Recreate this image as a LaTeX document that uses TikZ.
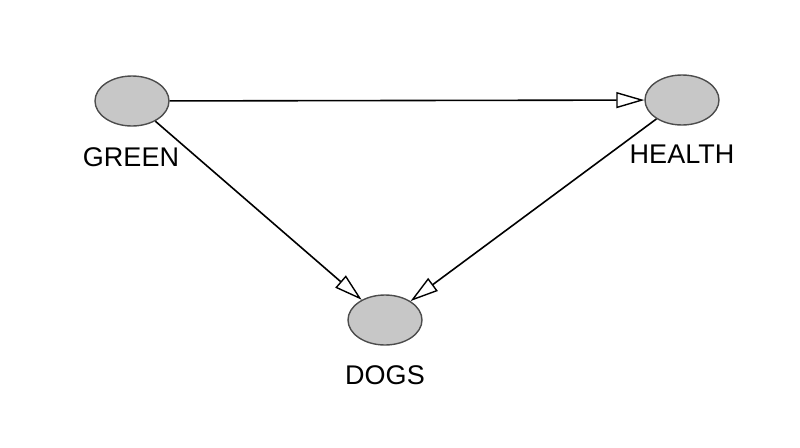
\documentclass[tikz,border=0pt]{standalone}
\usepackage{fontspec}
\setmainfont{Liberation Sans}
\usetikzlibrary{arrows.meta,shapes.geometric}
\begin{document}
\begin{tikzpicture}[x=1pt,y=-1pt,
  var/.style={ellipse,draw=black!70,line width=1.4pt,fill=black!22,minimum width=74pt,minimum height=50pt,inner sep=0pt},
  lab/.style={font=\fontsize{27}{30}\selectfont,inner sep=0pt},
  edge/.style={line width=1.6pt,-{Triangle[open,length=28pt,width=16pt,line width=1.4pt]}}]
\useasboundingbox (0,0) rectangle (800,447);
\node[var] (g) at (132,101) {};
\node[var] (h) at (682,100) {};
\node[var] (d) at (385,320) {};
\node[lab] (gl) at (131,157) {GREEN};
\node[lab] (hl) at (682,154) {HEALTH};
\node[lab] (dl) at (385,375) {DOGS};
\draw[edge] (g) -- (h);
\draw[edge] (g) -- (d);
\draw[edge] (h) -- (d);
\end{tikzpicture}
\end{document}
